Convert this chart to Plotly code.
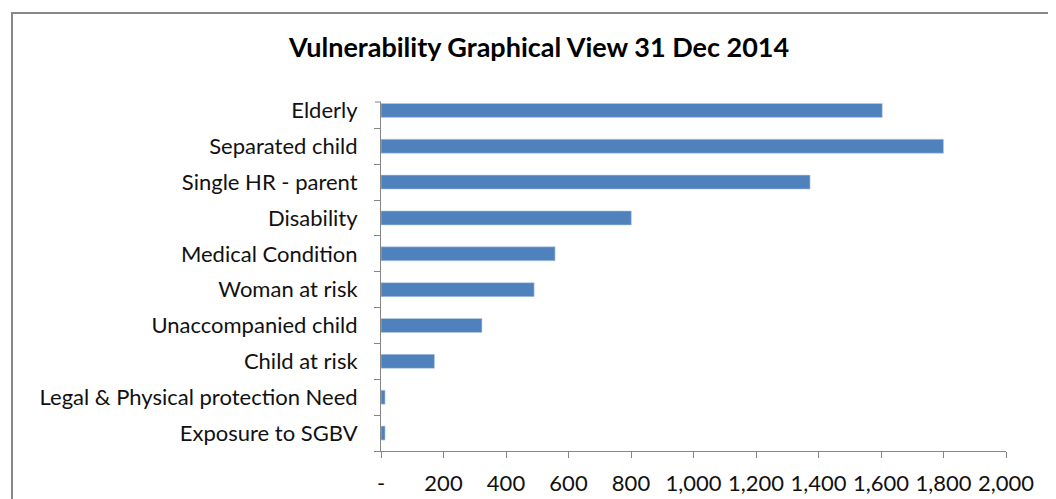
import plotly.graph_objects as go

categories = ["Exposure to SGBV", "Legal & Physical protection Need", "Child at risk",
              "Unaccompanied child", "Woman at risk", "Medical Condition", "Disability",
              "Single HR - parent", "Separated child", "Elderly"]
values = [13, 13, 171, 323, 490, 557, 801, 1373, 1800, 1604]
tick_vals = [0, 200, 400, 600, 800, 1000, 1200, 1400, 1600, 1800, 2000]
tick_text = ["-", "200", "400", "600", "800", "1,000", "1,200", "1,400", "1,600", "1,800", "2,000"]

OFF = 8  # page body margin
W, H = 1056 - OFF, 499 - OFF
L, T = 381 - OFF, 102 - OFF
R = W - (1006 - OFF)
B = H - (451 - OFF)
pw, ph = W - L - R, H - T - B

FONT = "Lato"
fig = go.Figure(go.Bar(
    y=categories, x=values, orientation="h",
    marker=dict(color="#4F81BD", line=dict(color="#B9CDE5", width=0.6)),
))

fig.update_layout(
    width=W, height=H,
    margin=dict(l=L, r=R, t=T, b=B, autoexpand=False),
    paper_bgcolor="white", plot_bgcolor="white",
    bargap=0.61,
    showlegend=False,
    title=dict(text="<b>Vulnerability Graphical View 31 Dec 2014</b>",
               x=(539 - OFF) / W, xanchor="center", y=1 - (48 - OFF) / H, yanchor="middle",
               font=dict(family=FONT, size=27, color="black")),
    font=dict(family=FONT, size=22, color="black"),
    shapes=[dict(type="rect", xref="paper", yref="paper",
                 x0=(12 - 381) / pw, x1=(1080 - 381) / pw,
                 y0=(451 - 530) / ph, y1=(451 - 13) / ph,
                 line=dict(color="#888888", width=2), fillcolor="rgba(0,0,0,0)", layer="below"),
            dict(type="line", xref="paper", yref="paper",
                 x0=-6 / pw, x1=0, y0=1, y1=1,
                 line=dict(color="#868686", width=1))],
)
fig.update_xaxes(range=[0, 2000], tickvals=tick_vals, ticktext=tick_text, automargin=False,
                 showgrid=False, zeroline=False, showline=True, linecolor="#868686", linewidth=1,
                 ticks="outside", ticklen=6, tickcolor="#868686",
                 tickfont=dict(family=FONT, size=22, color="#111111"), ticklabelstandoff=7)
fig.update_yaxes(type="category", categoryorder="array", categoryarray=categories,
                 range=[-0.5, 9.234], tickson="boundaries", automargin=False,
                 showgrid=False, zeroline=False, showline=True, linecolor="#868686", linewidth=1,
                 ticks="outside", ticklen=6, tickcolor="#868686",
                 tickfont=dict(family=FONT, size=22, color="#111111"), ticklabelstandoff=18)

fig.write_html("out.html")
